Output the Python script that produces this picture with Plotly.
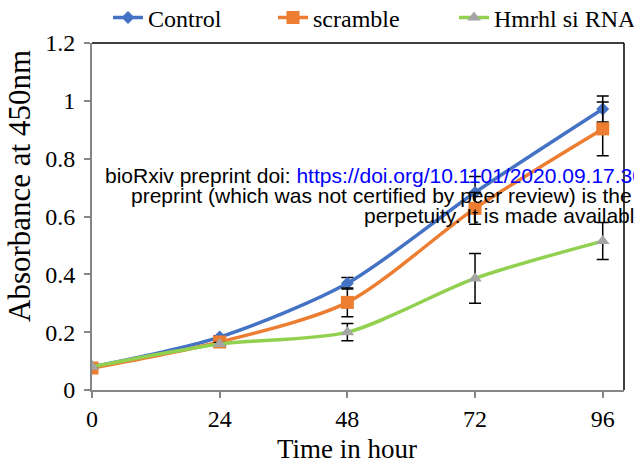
import plotly.graph_objects as go

# Time points (hours) and absorbance readings at 450 nm
hours = [0, 24, 48, 72, 96]
control = [0.080, 0.183, 0.369, 0.683, 0.972]
control_err = [0.005, 0.005, 0.020, 0.055, 0.045]
scramble = [0.076, 0.166, 0.303, 0.628, 0.903]
scramble_err = [0.005, 0.005, 0.050, 0.055, 0.093]
hmrhl = [0.080, 0.159, 0.200, 0.386, 0.515]
hmrhl_err = [0.005, 0.005, 0.030, 0.086, 0.064]

x_ticks = [0, 24, 48, 72, 96]

SERIF = "Liberation Serif, Times New Roman, serif"
SANS = "Liberation Sans, Arial, sans-serif"

W, H = 634, 472
L, R, T, B = 92, 10, 43, 82
pw, ph = W - L - R, H - T - B


def err(arr):
    return dict(type="data", array=arr, visible=True, color="black",
                thickness=1.5, width=6)


fig = go.Figure()
fig.add_trace(go.Scatter(
    x=hours, y=control, name="Control", mode="lines+markers", legend="legend",
    line=dict(color="#4472C4", width=3.5, shape="spline", smoothing=0.8),
    marker=dict(symbol="diamond", size=10, color="#4472C4"),
    error_y=err(control_err)))
fig.add_trace(go.Scatter(
    x=hours, y=scramble, name="scramble", mode="lines+markers", legend="legend2",
    line=dict(color="#ED7D31", width=3.5, shape="spline", smoothing=0.8),
    marker=dict(symbol="square", size=13, color="#ED7D31"),
    error_y=err(scramble_err)))
fig.add_trace(go.Scatter(
    x=hours, y=hmrhl, name="Hmrhl si RNA", mode="lines+markers", legend="legend3",
    line=dict(color="#92D050", width=3.5, shape="spline", smoothing=0.8),
    marker=dict(symbol="triangle-up", size=12, color="#A5A5A5"),
    error_y=err(hmrhl_err)))

# bioRxiv watermark lines
wm_lines = [
    ("bioRxiv preprint doi: <span style='color:#0000FF'>https://doi.org/10.1101/2020.09.17.301838</span>", 103, 175),
    ("preprint (which was not certified by peer review) is the author/funder", 129, 195),
    ("perpetuity. It is made available under a", 362, 215),
]
for txt, px, py in wm_lines:
    fig.add_annotation(
        text=txt, xref="paper", yref="paper",
        x=(px - L) / pw, y=(H - B - py) / ph,
        xanchor="left", yanchor="middle", showarrow=False,
        font=dict(family=SANS, size=21, color="black"))

# axis titles
fig.add_annotation(
    text="Absorbance at 450nm", xref="paper", yref="paper",
    x=(19 - L) / pw, y=(H - B - 186) / ph, xanchor="center", yanchor="middle",
    textangle=-90, showarrow=False, font=dict(family=SERIF, size=31, color="black"))
fig.add_annotation(
    text="Time in hour", xref="paper", yref="paper",
    x=(347 - L) / pw, y=(H - B - 449) / ph, xanchor="center", yanchor="middle",
    showarrow=False, font=dict(family=SERIF, size=27, color="black"))

# black frame on top and right of the plot area
fig.add_shape(type="line", xref="paper", yref="paper", x0=0, x1=1, y0=1, y1=1,
              line=dict(color="black", width=1.5))
fig.add_shape(type="line", xref="paper", yref="paper", x0=1, x1=1, y0=0, y1=1,
              line=dict(color="black", width=1.5))

leg_common = dict(orientation="h", xref="container", yref="container",
                  xanchor="left", yanchor="middle", y=1 - 18 / H,
                  font=dict(family=SERIF, size=24, color="black"),
                  bgcolor="rgba(0,0,0,0)")

fig.update_layout(
    width=W, height=H,
    margin=dict(l=L, r=R, t=T, b=B, autoexpand=False),
    paper_bgcolor="white", plot_bgcolor="white",
    font=dict(family=SERIF, size=24, color="black"),
    showlegend=True,
    legend=dict(leg_common, x=108 / W),
    legend2=dict(leg_common, x=273 / W),
    legend3=dict(leg_common, x=454 / W),
    xaxis=dict(range=[0, 100], tickvals=x_ticks, ticktext=[str(v) for v in x_ticks],
               showgrid=False, zeroline=False, showline=True,
               linecolor="#868686", linewidth=2, ticks="outside",
               tickcolor="#868686", ticklen=6, tickwidth=1.5),
    yaxis=dict(range=[0, 1.2], dtick=0.2, showgrid=False, zeroline=False,
               showline=True, linecolor="#868686", linewidth=2,
               ticks="outside", tickcolor="#868686", ticklen=6, tickwidth=1.5,
               ticklabelstandoff=4),
)

fig.write_html("out.html")
